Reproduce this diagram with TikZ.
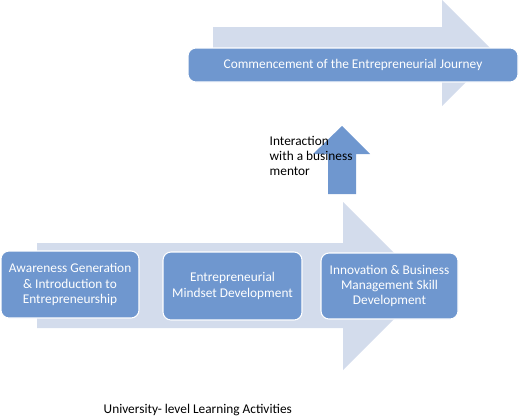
\documentclass[tikz,border=0pt]{standalone}
\usepackage{fontspec}
\setmainfont{Carlito}
\usepackage{tikz}

\definecolor{stageblue}{HTML}{6F97CF}
\definecolor{flowblue}{HTML}{D3DCEC}

\begin{document}
\begin{tikzpicture}[x=0.75pt,y=-0.75pt,
  stage/.style={shape=rectangle,rounded corners=6pt,fill=stageblue,draw=white,line width=0.8pt,text=white,align=center,font=\fontsize{10}{11.4}\selectfont,inner sep=0pt},
  flow/.style={fill=flowblue,draw=none}]
\useasboundingbox (0,0) rectangle (520,418);
% background arrows
\fill[flow] (37,243) -- (343,243) -- (343,202) -- (427,286) -- (343,370) -- (343,328) -- (37,328) -- cycle;
\fill[flow] (213,27) -- (442,27) -- (442,0) -- (495,53) -- (442,106) -- (442,79) -- (213,79) -- cycle;
\fill[stageblue] (328,194) -- (328,154) -- (313,154) -- (342,126) -- (370,154) -- (356,154) -- (356,194) -- cycle;
% stages
\draw (70,284.5) node (aware) [stage,minimum width=103.5pt,minimum height=50.25pt] {Awareness Generation\\\& Introduction to\\Entrepreneurship};
\draw (232.5,286) node (mindset) [stage,minimum width=104.25pt,minimum height=51pt] {Entrepreneurial\\Mindset Development};
\draw (389.5,286) node (skill) [stage,minimum width=102.75pt,minimum height=49.5pt] {Innovation \& Business\\Management Skill\\Development};
\draw (353,65) node (journey) [stage,minimum width=247.5pt,minimum height=25.5pt] {Commencement of the Entrepreneurial Journey};
\draw (265,156) node (mentor) [anchor=west,align=left,font=\fontsize{10}{11.4}\selectfont] {Interaction\\with a business\\mentor};
\draw (99,410) node (uni) [anchor=west,font=\fontsize{10}{11.4}\selectfont] {University- level Learning Activities};
\end{tikzpicture}
\end{document}
